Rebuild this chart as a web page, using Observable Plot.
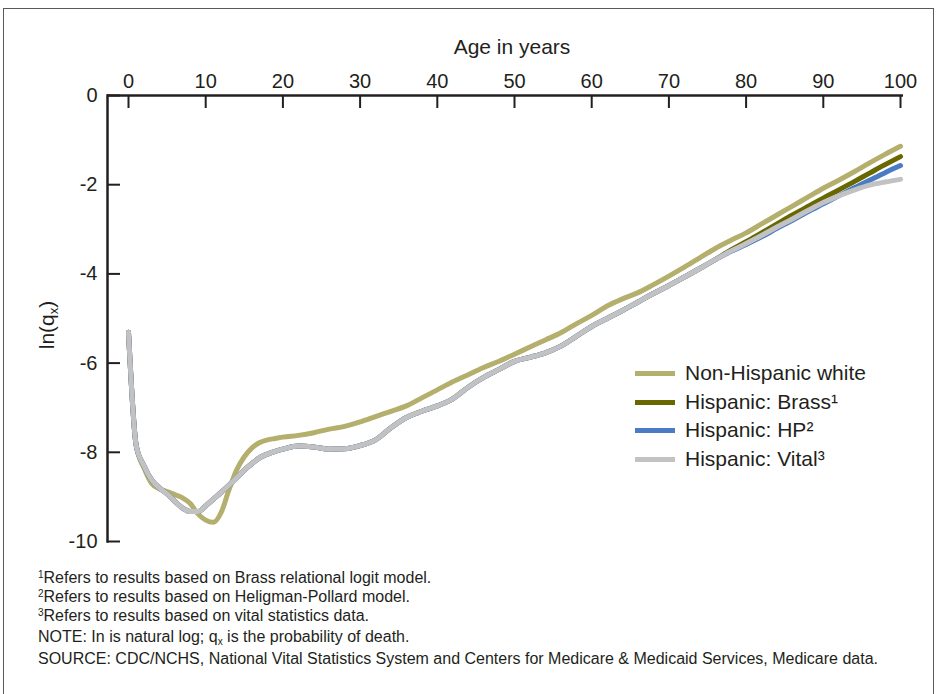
<!DOCTYPE html>
<html>
<head>
<meta charset="utf-8">
<script src="https://cdn.jsdelivr.net/npm/d3@7"></script>
<script src="https://cdn.jsdelivr.net/npm/@observablehq/plot@0.6"></script>
<style>
  html, body { margin: 0; padding: 0; background: #fff; }
  #wrap { position: relative; width: 938px; height: 694px; overflow: hidden; background: #fff;
          font-family: "Liberation Sans", Arial, sans-serif; color: #231f20; }
  #border { position: absolute; left: 3px; top: 8px; width: 931px; height: 720px; border: 1.5px solid #58595b; box-sizing: border-box; }
  #chart { position: absolute; left: 0; top: 0; }
  #xtitle { position: absolute; left: 0; width: 1024px; top: 35px; text-align: center; font-size: 21px; line-height: 24px; }
  #ytitle { position: absolute; left: 47px; top: 325px; font-size: 21px; line-height: 24px; white-space: nowrap;
            transform: translate(-50%, -50%) rotate(-90deg); }
  #ytitle sub { font-size: 13px; vertical-align: -4px; line-height: 0; }
  #legend { position: absolute; left: 635px; top: 359px; font-size: 21px; }
  .lrow { position: relative; height: 28.5px; line-height: 28px; white-space: nowrap; }
  .sw { position: absolute; left: 0; top: 12px; width: 40px; height: 5px; }
  .lt { position: absolute; left: 50px; top: 0; }
  #notes { position: absolute; left: 38px; top: 568px; font-size: 16px; line-height: 19px; white-space: nowrap; }
  #notes sup { font-size: 10px; vertical-align: 5px; line-height: 0; }
  #notes sub { font-size: 10px; vertical-align: -3px; line-height: 0; }
</style>
</head>
<body>
<div id="wrap">
  <div id="border"></div>
  <div id="chart"></div>
  <div id="xtitle">Age in years</div>
  <div id="ytitle">ln(q<sub>x</sub>)</div>
  <div id="legend"></div>
  <div id="notes">
    <div><sup>1</sup>Refers to results based on Brass relational logit model.</div>
    <div><sup>2</sup>Refers to results based on Heligman-Pollard model.</div>
    <div><sup>3</sup>Refers to results based on vital statistics data.</div>
    <div style="margin-top:2px">NOTE: In is natural log; q<sub>x</sub> is the probability of death.</div>
    <div style="margin-top:3px">SOURCE: CDC/NCHS, National Vital Statistics System and Centers for Medicare &amp; Medicaid Services, Medicare data.</div>
  </div>
</div>
<script>
// ---- data ----
const ages = [0,1,2,3,4,5,6,7,8,9,10,11,12,13,14,15,16,17,18,19,20,
  22,24,26,28,30,32,34,36,38,40,42,44,46,48,50,52,54,56,58,60,
  62,64,66,68,70,72,74,76,78,80,82,84,86,88,90,92,94,96,98,100];

const nonHispanicWhite = [-5.31,-7.85,-8.35,-8.70,-8.82,-8.88,-8.95,-9.02,-9.15,-9.38,-9.52,-9.57,-9.35,-8.85,-8.40,-8.10,-7.90,-7.78,-7.72,-7.69,-7.66,
  -7.62,-7.56,-7.48,-7.42,-7.32,-7.20,-7.08,-6.96,-6.78,-6.60,-6.42,-6.26,-6.10,-5.96,-5.80,-5.64,-5.48,-5.32,-5.12,-4.93,
  -4.72,-4.56,-4.42,-4.24,-4.05,-3.85,-3.64,-3.43,-3.25,-3.08,-2.88,-2.68,-2.48,-2.28,-2.08,-1.90,-1.71,-1.51,-1.32,-1.14];

const hispanicBrass = [-5.31,-7.85,-8.30,-8.62,-8.80,-8.93,-9.10,-9.25,-9.33,-9.33,-9.20,-9.05,-8.90,-8.74,-8.57,-8.40,-8.25,-8.12,-8.04,-7.98,-7.93,
  -7.86,-7.88,-7.93,-7.92,-7.85,-7.72,-7.45,-7.22,-7.08,-6.96,-6.80,-6.54,-6.32,-6.14,-5.96,-5.87,-5.77,-5.62,-5.40,-5.18,
  -5.00,-4.82,-4.63,-4.44,-4.26,-4.07,-3.88,-3.68,-3.47,-3.28,-3.08,-2.88,-2.68,-2.49,-2.30,-2.12,-1.93,-1.74,-1.55,-1.37];

const hispanicHP = [-5.31,-7.85,-8.30,-8.62,-8.80,-8.93,-9.10,-9.25,-9.33,-9.33,-9.20,-9.05,-8.90,-8.74,-8.57,-8.40,-8.25,-8.12,-8.04,-7.98,-7.93,
  -7.86,-7.88,-7.93,-7.92,-7.85,-7.72,-7.45,-7.22,-7.08,-6.96,-6.80,-6.54,-6.32,-6.14,-5.96,-5.87,-5.77,-5.62,-5.40,-5.18,
  -5.00,-4.82,-4.63,-4.44,-4.26,-4.07,-3.88,-3.68,-3.50,-3.34,-3.17,-2.98,-2.80,-2.61,-2.43,-2.25,-2.07,-1.90,-1.73,-1.57];

const hispanicVital = [-5.31,-7.85,-8.30,-8.62,-8.80,-8.93,-9.10,-9.25,-9.33,-9.33,-9.20,-9.05,-8.90,-8.74,-8.57,-8.40,-8.25,-8.12,-8.04,-7.98,-7.93,
  -7.86,-7.88,-7.93,-7.92,-7.85,-7.72,-7.45,-7.22,-7.08,-6.96,-6.80,-6.54,-6.32,-6.14,-5.96,-5.87,-5.77,-5.62,-5.40,-5.18,
  -5.00,-4.82,-4.63,-4.44,-4.26,-4.07,-3.88,-3.68,-3.49,-3.32,-3.14,-2.95,-2.77,-2.58,-2.40,-2.25,-2.12,-2.01,-1.94,-1.88];

const seriesNames = ["Non-Hispanic white", "Hispanic: Brass", "Hispanic: HP", "Hispanic: Vital"];
const seriesSup = ["", "¹", "²", "³"];
const seriesColors = ["#b4af6c", "#686700", "#4a7bc4", "#c2c2c4"];
const seriesValues = [nonHispanicWhite, hispanicBrass, hispanicHP, hispanicVital];

const xTicks = [0,10,20,30,40,50,60,70,80,90,100];
const yTicks = [0,-2,-4,-6,-8,-10];

// ---- build rows ----
const rows = seriesValues.map((vals, i) => ages.map((a, j) => ({series: seriesNames[i], age: a, value: vals[j]})));

const ink = "#231f20";
const chart = Plot.plot({
  width: 938,
  height: 562,
  marginTop: 95,
  marginLeft: 107,
  marginRight: 35,
  marginBottom: 21,
  style: {fontFamily: "'Liberation Sans', Arial, sans-serif", color: ink, background: "transparent"},
  x: {domain: [0, 100], insetLeft: 21, insetRight: 3},
  y: {domain: [-10, 0]},
  marks: [
    ...rows.map((r, i) => Plot.line(r, {x: "age", y: "value", stroke: seriesColors[i], strokeWidth: 5, curve: "monotone-x", strokeLinejoin: "round"})),
    Plot.axisX({anchor: "top", ticks: xTicks, tickSize: -12, tickFormat: () => "", strokeWidth: 2, stroke: ink, label: null}),
    Plot.axisX({anchor: "top", ticks: xTicks, tickSize: 0, tickPadding: 8, tickFormat: d => String(d), fontSize: 20, fill: ink, label: null}),
    Plot.axisY({anchor: "left", ticks: yTicks, tickSize: -13, tickFormat: () => "", strokeWidth: 2, stroke: ink, label: null}),
    Plot.axisY({anchor: "left", ticks: yTicks, tickSize: 0, tickPadding: 10, tickFormat: d => String(d), fontSize: 20, fill: ink, label: null}),
    Plot.ruleY([0], {stroke: ink, strokeWidth: 2.5}),
    Plot.frame({anchor: "left", stroke: ink, strokeWidth: 2.5})
  ]
});
document.getElementById("chart").appendChild(chart);

// ---- legend ----
const legend = document.getElementById("legend");
seriesNames.forEach((n, i) => {
  const row = document.createElement("div");
  row.className = "lrow";
  row.innerHTML = `<div class="sw" style="background:${seriesColors[i]}"></div><div class="lt">${n}${seriesSup[i]}</div>`;
  legend.appendChild(row);
});
</script>
</body>
</html>
